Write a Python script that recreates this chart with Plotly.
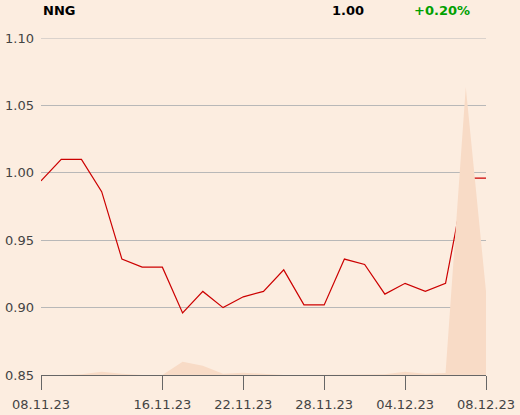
import plotly.graph_objects as go

dates = ["08.11.23","09.11.23","10.11.23","13.11.23","14.11.23","15.11.23","16.11.23",
         "17.11.23","20.11.23","21.11.23","22.11.23","23.11.23","24.11.23","27.11.23",
         "28.11.23","29.11.23","30.11.23","01.12.23","04.12.23","05.12.23","06.12.23",
         "07.12.23","08.12.23"]
prices = [0.994,1.010,1.010,0.986,0.936,0.930,0.930,0.896,0.912,0.900,0.908,0.912,
          0.928,0.902,0.902,0.936,0.932,0.910,0.918,0.912,0.918,0.996,0.996]
volumes = [0,0,0.3,1.1,0.4,0,0,4.6,3.2,0.4,0.8,0.4,0,0,0,0,0.2,0.3,1.1,0.4,0.7,100,29]
tick_labels = ["08.11.23","16.11.23","22.11.23","28.11.23","04.12.23","08.12.23"]
y_ticks = [0.85,0.90,0.95,1.00,1.05,1.10]

W, H = 520, 415
L, R, T, B = 41, 34, 38, 40
bg = "#fcede0"

fig = go.Figure()
fig.add_trace(go.Scatter(x=dates, y=volumes, yaxis="y2", mode="lines",
                         line=dict(width=0, color="#f8dbc6"), fill="tozeroy",
                         fillcolor="#f8dbc6", hoverinfo="skip"))
fig.add_trace(go.Scatter(x=dates, y=prices, mode="lines",
                         line=dict(color="#cc0000", width=1.2)))

fig.update_layout(
    width=W, height=H, paper_bgcolor=bg, plot_bgcolor=bg,
    margin=dict(l=L, r=R, t=T, b=B, autoexpand=False), showlegend=False,
    font=dict(family="DejaVu Sans", size=13, color="#444444"),
    xaxis=dict(type="category", range=[0, len(dates)-1], tickmode="array",
               tickvals=tick_labels, ticktext=tick_labels, showgrid=False,
               ticks="outside", ticklen=14, tickcolor="#666666", showline=True,
               linecolor="#666666", linewidth=1, zeroline=False, automargin=False,
               ticklabelstandoff=3),
    yaxis=dict(range=[0.85, 1.10], tickvals=y_ticks,
               ticktext=[f"{v:.2f}" for v in y_ticks], showgrid=True,
               gridcolor="#b8b8b8", gridwidth=1, zeroline=False, showline=False,
               ticks="", ticklabelstandoff=6, automargin=False),
    yaxis2=dict(overlaying="y", range=[0, 117], visible=False),
)
fig.add_shape(type="line", xref="paper", yref="y", x0=0, x1=1, y0=1.10, y1=1.10,
              line=dict(color="#b8b8b8", width=1), layer="below")

header = [
    ("<b>NNG</b>", 41, "left", "#000000"),
    ("<b>1.00</b>", 366, "right", "#000000"),
    ("<b>+0.20%</b>", 412, "left", "#00a000"),
]
pw = W - L - R
for text, px, anchor, color in header:
    fig.add_annotation(x=(px - L) / pw, y=1, xref="paper", yref="paper",
                       yshift=T - 10, text=text, showarrow=False, xanchor=anchor,
                       yanchor="middle", font=dict(size=13, color=color))
fig.write_html("out.html", config={"displayModeBar": False},
               post_script="document.body.style.margin='0';document.body.style.background='%s';" % bg)
